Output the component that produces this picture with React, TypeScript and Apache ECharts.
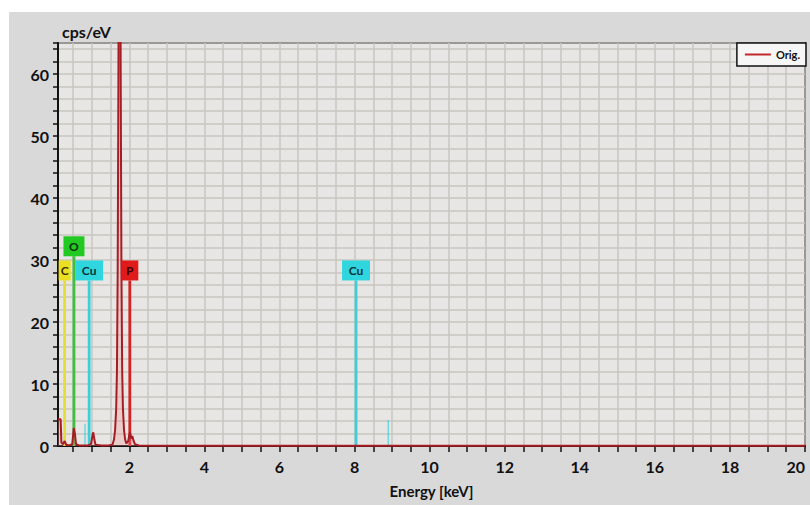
import React, { useEffect, useRef } from "react";
import * as echarts from "echarts";

// ---- data ----
const spectrumEnergy = [
  0.10, 0.17, 0.19, 0.23, 0.28, 0.32, 0.40, 0.48, 0.52, 0.55, 0.58, 0.66, 0.78, 0.90,
  0.98, 1.02, 1.04, 1.07, 1.10, 1.25, 1.45, 1.55, 1.59, 1.62, 1.65, 1.67, 1.69, 1.71,
  1.73, 1.74, 1.75, 1.77, 1.79, 1.81, 1.83, 1.86, 1.89, 1.92, 1.97, 2.00, 2.02, 2.05,
  2.08, 2.11, 2.15, 2.25, 3.0, 5.0, 7.0, 8.0, 9.0, 12.0, 16.0, 20.0,
];
const spectrumCounts = [
  4.3, 4.3, 0.6, 0.3, 0.8, 0.2, 0.1, 0.3, 2.9, 2.0, 0.3, 0.1, 0.1, 0.1,
  0.3, 1.8, 2.2, 1.0, 0.2, 0.1, 0.1, 0.2, 1.0, 2.5, 6, 12, 28, 60,
  110, 125, 110, 60, 28, 12, 6, 2.5, 1.0, 0.4, 0.8, 1.8, 2.2, 1.2,
  1.6, 0.9, 0.3, 0.1, 0.05, 0.05, 0.05, 0.05, 0.05, 0.05, 0.05, 0.05,
];

const markerNames = ["C", "O", "Cu", "Cu", "P", "Cu", "Cu"];
const markerEnergy = [0.277, 0.525, 0.82, 0.93, 2.013, 8.04, 8.90];
const markerHeight = [26.7, 30.6, 3.6, 26.7, 26.7, 26.7, 4.2];
const markerLabeled = [true, true, false, true, true, true, false];

const xTickValues = [
  0.5, 1, 1.5, 2, 2.5, 3, 3.5, 4, 4.5, 5, 5.5, 6, 6.5, 7, 7.5, 8, 8.5, 9, 9.5, 10,
  10.5, 11, 11.5, 12, 12.5, 13, 13.5, 14, 14.5, 15, 15.5, 16, 16.5, 17, 17.5, 18,
  18.5, 19, 19.5, 20,
];
const xTickLabels = [2, 4, 6, 8, 10, 12, 14, 16, 18, 20];
const yTickLabels = [0, 10, 20, 30, 40, 50, 60];

// ---- styles ----
const elementStyle: Record<string, { line: string; box: string; text: string; size: number[] }> = {
  C: { line: "#e6dc3a", box: "#eadf22", text: "#3a3000", size: [12, 20] },
  O: { line: "#3fbf3f", box: "#22c922", text: "#0d300d", size: [21, 20] },
  Cu: { line: "#3ccfd8", box: "#30d6de", text: "#0b3336", size: [28, 20] },
  P: { line: "#d42222", box: "#e01a1a", text: "#3a0000", size: [17, 20] },
};

const FONT = "Lato, 'Open Sans', sans-serif";

export default function App() {
  const ref = useRef<HTMLDivElement>(null);

  useEffect(() => {
    if (!ref.current) return;
    const chart = echarts.init(ref.current, null, { renderer: "svg" });

    const markerSeries = markerNames.map((name, i) => {
      const st = elementStyle[name];
      const s: any = {
        type: "line",
        name,
        data: [
          [markerEnergy[i], 0],
          [markerEnergy[i], markerHeight[i]],
        ],
        showSymbol: false,
        symbol: "none",
        lineStyle: {
          color: st.line,
          width: markerLabeled[i] ? 2.8 : 1.5,
          opacity: markerLabeled[i] ? 1 : 0.7,
        },
        z: 2,
        silent: true,
      };
      if (markerLabeled[i]) {
        s.markPoint = {
          silent: true,
          animation: false,
          symbol: "rect",
          symbolSize: st.size,
          symbolOffset: [0, -st.size[1] / 2],
          itemStyle: { color: st.box },
          label: {
            show: true,
            position: "inside",
            formatter: name,
            color: st.text,
            fontFamily: FONT,
            fontWeight: "bold",
            fontSize: 12,
          },
          data: [{ coord: [markerEnergy[i], markerHeight[i]] }],
        };
      }
      return s;
    });

    const option: any = {
      animation: false,
      backgroundColor: "#ffffff",
      graphic: [
        {
          type: "rect",
          z: -100,
          shape: { x: 9, y: 12, width: 801, height: 493 },
          style: { fill: "#d9d9d9" },
          silent: true,
        },
      ],
      grid: {
        left: 58,
        right: 5,
        top: 43,
        bottom: 59,
        outerBoundsMode: "none",
        containLabel: false,
        show: true,
        backgroundColor: "#e7e6e4",
        borderColor: "#111",
        borderWidth: 2,
      },
      legend: {
        data: [{ name: "Orig.", icon: "rect" }],
        right: 4,
        top: 43,
        backgroundColor: "#f6f6f6",
        borderColor: "#111",
        borderWidth: 1.5,
        borderRadius: 0,
        padding: [6, 6, 6, 8],
        itemWidth: 26,
        itemHeight: 2,
        textStyle: { fontFamily: FONT, fontWeight: "bold", fontSize: 11, color: "#111" },
      },
      xAxis: {
        type: "value",
        min: 0.1,
        max: 20,
        name: "Energy [keV]",
        nameLocation: "middle",
        nameGap: 37,
        nameTextStyle: { fontFamily: FONT, fontWeight: "bold", fontSize: 15, color: "#111" },
        axisLine: { show: true, onZero: false, lineStyle: { color: "#111", width: 2 } },
        axisTick: {
          show: true,
          inside: false,
          length: 6,
          customValues: xTickValues,
          lineStyle: { color: "#111", width: 1.5 },
        },
        axisLabel: {
          customValues: xTickLabels,
          margin: 12,
          alignMaxLabel: "right",
          fontFamily: FONT,
          fontWeight: "bold",
          fontSize: 16,
          color: "#111",
        },
        splitLine: { show: true, lineStyle: { color: "#c9c6c1", width: 1.5 } },
      },
      yAxis: {
        type: "value",
        min: 0,
        max: 65,
        interval: 2,
        name: "cps/eV",
        nameLocation: "end",
        nameGap: 4,
        nameTextStyle: {
          fontFamily: FONT,
          fontWeight: "bold",
          fontSize: 16,
          color: "#111",
          align: "left",
          verticalAlign: "bottom",
          padding: [0, 0, 0, 4],
        },
        axisLine: { show: true, lineStyle: { color: "#111", width: 2 } },
        axisTick: { show: true, inside: false, length: 5, lineStyle: { color: "#111", width: 1.5 } },
        axisLabel: {
          customValues: yTickLabels,
          margin: 9,
          fontFamily: FONT,
          fontWeight: "bold",
          fontSize: 16,
          color: "#111",
        },
        splitLine: { show: true, lineStyle: { color: "#c9c6c1", width: 1.5 } },
      },
      series: [
        ...markerSeries,
        {
          type: "line",
          name: "Orig.",
          data: spectrumEnergy.map((e, i) => [e, spectrumCounts[i]]),
          showSymbol: false,
          symbol: "none",
          clip: true,
          color: "#c0282c",
          lineStyle: { color: "#a81c24", width: 2 },
          areaStyle: { color: "rgba(240,150,150,0.45)" },
          z: 3,
          silent: true,
        },
      ],
    };

    chart.setOption(option);
    return () => chart.dispose();
  }, []);

  return (
    <div
      ref={ref}
      style={{ position: "absolute", left: 0, top: 0, width: 810, height: 505 }}
    />
  );
}
